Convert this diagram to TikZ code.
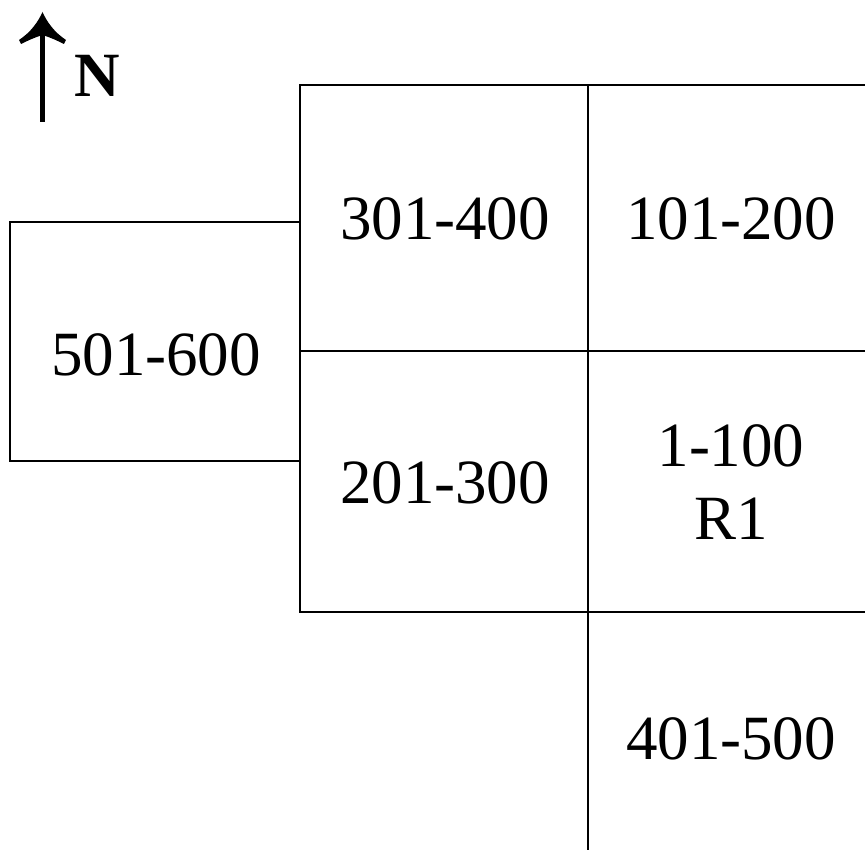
\documentclass[tikz,border=0pt]{standalone}
\usepackage{fontspec}
\setmainfont{Liberation Serif}
\begin{document}
\begin{tikzpicture}[x=1pt,y=-1pt,
  wall/.style={line width=2.2pt, line cap=rect},
  lbl/.style={inner sep=0pt, anchor=base, font=\fontsize{63}{73}\selectfont},
  lbl2/.style={inner sep=0pt, anchor=center, align=center, font=\fontsize{63}{73}\selectfont}]
\useasboundingbox (0,0) rectangle (865,850);
% north arrow
\coordinate (ntail) at (42.5,122);
\coordinate (nneck) at (42.5,34);
\coordinate (nhead) at (42.5,12);
\draw[line width=5.5pt] (ntail) -- (nneck);
\fill (nhead) .. controls (38,22) and (31,32) .. (19,40) -- (21,44)
  .. controls (29,40) and (36,37) .. (42.5,35)
  .. controls (49,37) and (56,40) .. (64,44) -- (66,40)
  .. controls (54,32) and (47,22) .. (nhead) -- cycle;
\node[lbl, font=\fontsize{63}{73}\selectfont\bfseries] (north) at (97,97) {N};
% plan
\draw[wall] (865,85) -- (300,85) -- (300,612) -- (865,612);
\draw[wall] (300,351) -- (865,351);
\draw[wall] (588,85) -- (588,850);
\draw[wall] (10,222) rectangle (300,461);
% labels
\node[lbl] (a) at (445,240) {301-400};
\node[lbl] (b) at (731,240) {101-200};
\node[lbl] (c) at (445,503) {201-300};
\node[lbl2] (d) at (731,482) {1-100\\R1};
\node[lbl] (e) at (731,759) {401-500};
\node[lbl] (f) at (156,375) {501-600};
\end{tikzpicture}
\end{document}
